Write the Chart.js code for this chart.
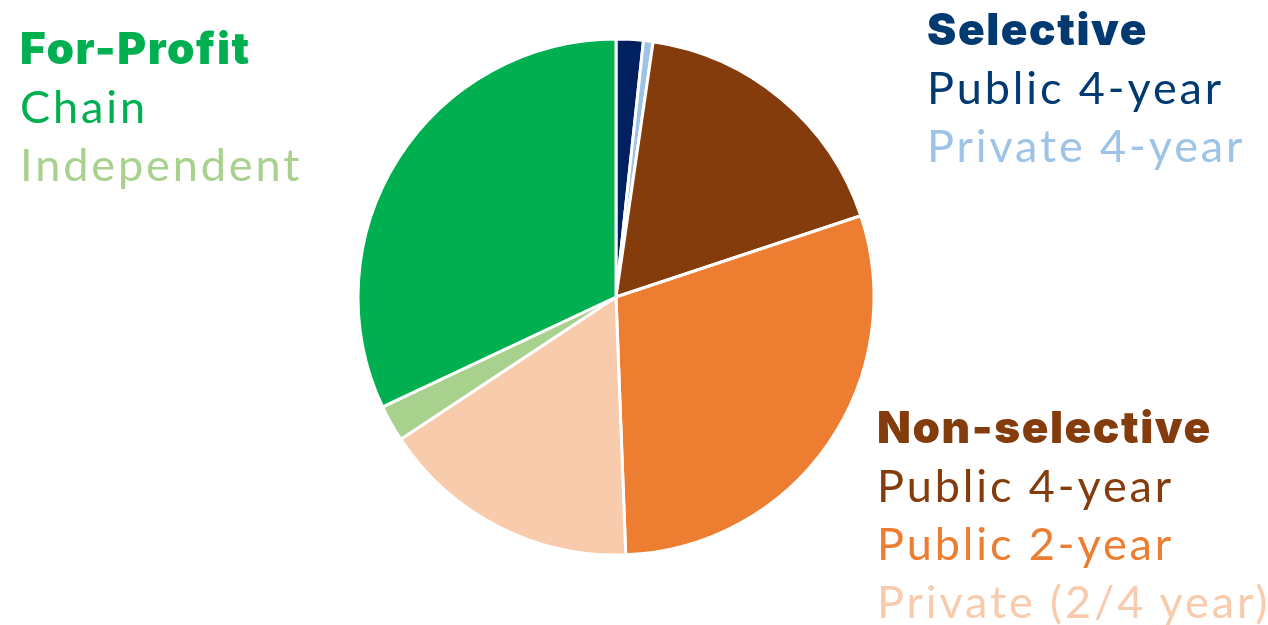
<!DOCTYPE html>
<html>
<head>
<meta charset="utf-8">
<script src="https://cdn.jsdelivr.net/npm/chart.js@4"></script>
<style>
  html, body { margin: 0; padding: 0; background: #fff; }
  #wrap { position: relative; width: 1268px; height: 625px; }
  .group { position: absolute; font-family: "Lato", sans-serif; font-size: 45px; line-height: 58px; letter-spacing: 2.9px; white-space: nowrap; }
  .group .head { font-family: "Inter", sans-serif; font-weight: 900; font-size: 44px; letter-spacing: 1.6px; }
</style>
</head>
<body>
<div id="wrap">
  <canvas id="pieChart" width="1268" height="625"></canvas>
  <div class="group" id="forProfit" style="left:20px; top:19px;"></div>
  <div class="group" id="selective" style="left:927px; top:0px;"></div>
  <div class="group" id="nonSelective" style="left:877px; top:398px;"></div>
</div>
<script>
// shares of institutions, clockwise from 12 o'clock
var categories = ["Selective Public 4-year", "Selective Private 4-year", "Non-selective Public 4-year",
  "Non-selective Public 2-year", "Non-selective Private (2/4 year)", "For-Profit Independent", "For-Profit Chain"];
var shares = [1.7, 0.6, 17.6, 29.5, 16.3, 2.3, 32.0];
var sliceColors = ["#002060", "#9dc3e6", "#843c0c", "#ed7d31", "#f8cbad", "#a9d18e", "#00b050"];

// legend blocks: heading + lines
var legendGroups = [
  { id: "forProfit", head: "For-Profit", headColor: "#00b050",
    lines: ["Chain", "Independent"], colors: ["#00b050", "#a9d18e"] },
  { id: "selective", head: "Selective", headColor: "#003a70",
    lines: ["Public 4-year", "Private 4-year"], colors: ["#003a70", "#9dc3e6"] },
  { id: "nonSelective", head: "Non-selective", headColor: "#843c0c",
    lines: ["Public 4-year", "Public 2-year", "Private (2/4 year)"], colors: ["#843c0c", "#ed7d31", "#f8cbad"] }
];

legendGroups.forEach(function (g) {
  var el = document.getElementById(g.id);
  var h = document.createElement("div");
  h.className = "head";
  h.style.color = g.headColor;
  h.textContent = g.head;
  el.appendChild(h);
  g.lines.forEach(function (t, i) {
    var d = document.createElement("div");
    d.style.color = g.colors[i];
    d.textContent = t;
    el.appendChild(d);
  });
});

var ctx = document.getElementById("pieChart");
var pieChart = new Chart(ctx, {
  type: "pie",
  data: {
    labels: categories,
    datasets: [
      {
        data: shares,
        backgroundColor: sliceColors,
        borderColor: "#fff",
        borderWidth: 3,
      },
    ],
  },
  options: {
    responsive: false,
    animation: false,
    radius: 258,
    layout: { padding: { left: 0, right: 36, top: 0, bottom: 31 } },
    plugins: {
      legend: { display: false },
      tooltip: { enabled: false },
    },
  },
});
</script>
</body>
</html>
